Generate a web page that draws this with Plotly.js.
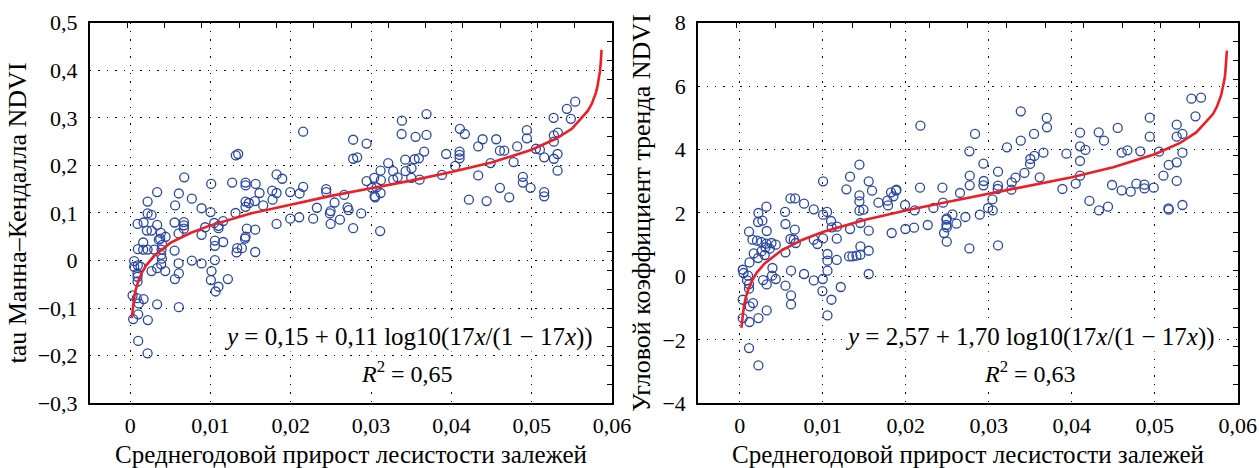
<!DOCTYPE html>
<html>
<head>
<meta charset="utf-8">
<script src="https://cdn.plot.ly/plotly-3.0.1.min.js"></script>
<style>html,body{margin:0;padding:0;background:#fff;}#chart{width:1259px;height:468px;}</style>
</head>
<body>
<div id="chart"></div>
<script>
// ---- Left panel: tau Mann-Kendall NDVI vs forest gain ----
const tauX = [0.01316,0.01345,0.00673,0.01009,0.0127,0.01437,0.01437,0.01562,0.00336,0.00606,0.00217,0.00768,0.0056,0.00889,0.01001,0.01437,0.01478,0.01553,0.01437,0.01312,0.00217,0.00266,0.00167,0.00092,0.00336,0.00553,0.00669,0.00669,0.00669,0.00208,0.00266,0.00382,0.00441,0.00374,0.00357,0.00162,0.00603,0.00889,0.00934,0.01046,0.0110,0.0110,0.01158,0.01453,0.01557,0.01055,0.01055,0.01158,0.01437,0.0143,0.01333,0.01325,0.01391,0.01557,0.00096,0.00162,0.00217,0.00299,0.00399,0.00391,0.00553,0.0005,0.00096,0.0005,0.0013,0.00092,0.00092,0.00092,0.00266,0.00336,0.00386,0.00395,0.00386,0.00436,0.00603,0.00606,0.00557,0.00768,0.00889,0.01013,0.01005,0.01055,0.01217,0.0110,0.01064,0.0003,0.00083,0.00167,0.00108,0.00336,0.00606,0.00037,0.001,0.0022,0.001,0.00217,
0.02154,0.03384,0.0338,0.0369,0.03554,0.0369,0.02777,0.02944,0.03661,0.03595,0.03542,0.03425,0.03213,0.02777,0.02827,0.01823,0.01893,0.01611,0.01656,0.01768,0.01823,0.01773,0.01993,0.0211,0.02154,0.02441,0.02441,0.02665,0.02545,0.02325,0.02496,0.02487,0.02707,0.0272,0.02877,0.02496,0.02279,0.02105,0.01993,0.01823,0.02612,0.02777,0.03113,0.02944,0.0301,0.03039,0.03122,0.03118,0.03043,0.03051,0.03068,0.03118,0.03275,0.0333,0.0343,0.03504,0.035,0.03604,0.03275,
0.03935,0.03882,0.04047,0.04106,0.04168,0.04102,0.04102,0.04102,0.04218,0.04334,0.04389,0.04334,0.04438,0.04488,0.04558,0.04604,0.04658,0.04604,0.0472,0.04775,0.0482,0.0489,0.0489,0.04986,0.0494,0.0494,0.05052,0.05102,0.05156,0.05156,0.05156,0.05273,0.05276,0.05326,0.05276,0.05276,0.05322,0.05322,0.05438,0.05488,0.05542];
const tauY = [0.221,0.224,0.175,0.161,0.164,0.158,0.164,0.161,0.144,0.141,0.124,0.130,0.116,0.110,0.102,0.124,0.121,0.125,0.113,0.100,0.099,0.096,0.080,0.077,0.075,0.080,0.081,0.074,0.067,0.063,0.063,0.058,0.050,0.046,0.044,0.038,0.057,0.054,0.070,0.079,0.068,0.073,0.083,0.067,0.065,0.042,0.031,0.039,0.050,0.046,0.026,0.017,0.026,0.018,0.024,0.023,0.023,0.023,0.033,0.023,0.021,-0.001,-0.010,-0.013,-0.013,-0.027,-0.034,-0.044,-0.022,-0.016,-0.008,0.004,0.012,-0.022,-0.006,-0.027,-0.039,0.000,-0.006,-0.022,-0.041,0.001,-0.039,-0.055,-0.065,-0.073,-0.079,-0.081,-0.090,-0.092,-0.098,-0.123,-0.113,-0.125,-0.169,-0.195,
0.271,0.294,0.266,0.308,0.260,0.264,0.254,0.246,0.229,0.215,0.213,0.212,0.205,0.214,0.217,0.181,0.172,0.142,0.116,0.147,0.142,0.128,0.144,0.141,0.155,0.150,0.144,0.138,0.122,0.111,0.104,0.099,0.112,0.106,0.099,0.077,0.088,0.091,0.088,0.077,0.086,0.068,0.062,0.167,0.153,0.174,0.169,0.142,0.135,0.133,0.154,0.189,0.188,0.175,0.188,0.194,0.174,0.170,0.170,
0.224,0.180,0.199,0.277,0.266,0.229,0.222,0.215,0.128,0.240,0.255,0.179,0.125,0.205,0.255,0.231,0.231,0.153,0.133,0.207,0.240,0.176,0.164,0.153,0.274,0.257,0.235,0.233,0.217,0.144,0.135,0.300,0.263,0.269,0.250,0.214,0.224,0.189,0.319,0.298,0.334];

const fitX = [0.0002,0.0003,0.0005,0.0007,0.001,0.0015,0.002,0.003,0.005,0.0075,0.01,0.015,0.02,0.025,0.03,0.035,0.04,0.045,0.05,0.053,0.055,0.057,0.0575,0.058,0.0582,0.0584,0.0585,0.0586,0.0587];
const tauFitY = [-0.121,-0.102,-0.077,-0.061,-0.044,-0.024,-0.010,0.010,0.037,0.058,0.074,0.099,0.118,0.136,0.152,0.168,0.186,0.206,0.233,0.256,0.277,0.315,0.330,0.353,0.367,0.385,0.398,0.416,0.443];

// ---- Right panel: slope of NDVI trend vs forest gain ----
const slopeX = [0.01442,0.01329,0.01004,0.01285,0.01442,0.01442,0.01554,0.01594,0.0149,0.01442,0.01454,0.00611,0.00667,0.00775,0.00892,0.00321,0.00225,0.00221,0.00273,0.00546,0.00551,0.00663,0.01004,0.01052,0.011,0.01108,0.01172,0.01329,0.01554,0.00112,0.00325,0.00153,0.00208,0.00261,0.00321,0.00382,0.00434,0.00611,0.00651,0.00675,0.00892,0.00936,0.01004,0.01169,0.0031,0.00361,0.00261,0.00301,0.00221,0.00169,0.00551,0.00117,0.00036,0.00045,0.001,0.00088,0.00112,0.00112,0.00394,0.00389,0.00434,0.00281,0.00325,0.00618,0.00775,0.00892,0.01,0.01057,0.00996,0.01105,0.01217,0.01554,0.00551,0.00618,0.00618,0.00036,0.0016,0.0012,0.00325,0.00225,0.00117,0.00036,0.01057,0.00112,0.00225,0.01554,0.01317,0.01358,0.01406,0.01454,0.01454,0.01057,0.01057,0.01169,
0.01787,0.01888,0.01671,0.01779,0.01823,0.01883,0.01852,0.01992,0.02108,0.02172,0.02177,0.02265,0.02442,0.02449,0.02494,0.02494,0.02462,0.01831,0.01996,0.021,0.02334,0.02563,0.0249,0.0249,0.02494,0.02611,0.02654,0.02719,0.02767,0.02771,0.02771,0.02767,0.02835,0.02892,0.02936,0.0294,0.02936,0.02992,0.03044,0.03048,0.03112,0.03112,0.03112,0.03108,0.03277,0.03273,0.03322,0.03386,0.03386,0.0343,0.03498,0.03502,0.0355,0.03546,0.03659,0.03614,0.03699,0.03702,0.0322,
0.03888,0.03936,0.04048,0.041,0.041,0.041,0.041,0.04165,0.04213,0.04329,0.04437,0.04325,0.04389,0.04486,0.04602,0.04711,0.04554,0.04602,0.04671,0.04779,0.04876,0.04876,0.04988,0.04827,0.0494,0.0494,0.05052,0.05105,0.05169,0.05265,0.05265,0.05165,0.05169,0.05334,0.05265,0.05265,0.05334,0.05334,0.05442,0.05558,0.05491];
const slopeY = [3.524,3.145,2.997,2.745,2.555,2.366,2.997,2.703,2.104,2.073,1.684,2.46,2.46,2.293,2.114,2.199,2.0,1.716,1.757,2.032,1.653,1.473,1.946,2.032,1.748,1.546,1.568,1.495,1.442,1.41,1.432,1.158,1.126,1.085,1.032,1.054,1.0,1.18,1.158,1.054,1.158,1.022,1.199,1.189,0.915,0.874,0.789,0.675,0.58,0.726,0.757,0.442,0.211,0.107,0.022,-0.126,-0.24,-0.388,0.265,0.022,-0.082,-0.114,-0.252,0.18,0.076,-0.126,-0.082,0.18,-0.461,-0.735,-0.334,0.076,-0.293,-0.599,-0.883,-0.735,-0.839,-0.946,-1.073,-1.312,-1.438,-1.312,-1.23,-2.259,-2.808,0.81,0.631,0.631,0.653,0.684,0.946,0.707,0.495,0.52,
2.24,2.735,2.325,2.388,2.65,2.703,2.524,2.252,2.082,2.798,4.754,1.621,2.798,2.325,1.83,1.546,1.369,1.369,1.495,1.536,2.158,1.956,1.789,1.621,1.095,1.662,2.631,1.874,0.883,2.871,3.177,3.943,4.492,1.946,3.555,3.009,2.871,2.158,2.429,2.082,3.303,2.861,0.978,2.757,2.965,2.735,3.114,5.205,4.281,3.262,3.546,3.703,3.798,4.492,3.902,3.123,4.997,4.7,4.069,
2.757,3.871,2.924,4.533,4.101,3.64,3.177,3.987,2.379,2.082,2.199,4.543,4.281,2.883,2.713,2.672,4.681,3.902,3.975,2.924,2.893,2.776,2.798,3.943,5.006,4.407,3.934,3.177,3.514,3.596,3.01,2.145,2.104,2.252,4.785,4.407,4.492,3.902,5.606,5.637,5.047];
const slopeFitY = [-1.624,-1.323,-0.944,-0.693,-0.425,-0.120,0.099,0.411,0.816,1.150,1.399,1.778,2.080,2.347,2.600,2.854,3.127,3.441,3.851,4.200,4.539,5.112,5.355,5.712,5.919,6.207,6.407,6.681,7.121];

const xTitle = 'Среднегодовой прирост лесистости залежей';
const yTitleL = 'tau Манна–Кендалла NDVI';
const yTitleR = 'Угловой коэффициент тренда NDVI';
const eqL = '<i>y</i> = 0,15 + 0,11 log10(17<i>x</i>/(1 − 17<i>x</i>))';
const r2L = '<i>R</i><sup>2</sup> = 0,65';
const eqR = '<i>y</i> = 2,57 + 1,70 log10(17<i>x</i>/(1 − 17<i>x</i>))';
const r2R = '<i>R</i><sup>2</sup> = 0,63';

const FONT = 'Liberation Serif';
const markerStyle = {symbol:'circle-open', size:9, color:'rgb(40,70,165)', line:{width:1.3, color:'rgb(40,70,165)'}};
const lineStyle = {color:'rgb(238,30,36)', width:2.6};

const traces = [
  {x:tauX, y:tauY, type:'scatter', mode:'markers', marker:markerStyle, xaxis:'x', yaxis:'y'},
  {x:fitX, y:tauFitY, type:'scatter', mode:'lines', line:lineStyle, xaxis:'x', yaxis:'y'},
  {x:slopeX, y:slopeY, type:'scatter', mode:'markers', marker:markerStyle, xaxis:'x2', yaxis:'y2'},
  {x:fitX, y:slopeFitY, type:'scatter', mode:'lines', line:lineStyle, xaxis:'x2', yaxis:'y2'},
  {x:[null], y:[null], type:'scatter', mode:'markers', xaxis:'x3', yaxis:'y3', showlegend:false, hoverinfo:'skip'},
  {x:[null], y:[null], type:'scatter', mode:'markers', xaxis:'x4', yaxis:'y4', showlegend:false, hoverinfo:'skip'}
];

const domL = [0.0715, 0.4861], domR = [0.5546, 0.9831], domY = [0.1383, 0.9515];

function tickFont(){ return {family:FONT, size:22, color:'#000'}; }

function xMain(dom, anchor){
  return {domain:dom, anchor:anchor, range:[-0.005,0.06], tick0:0, dtick:0.01, tickmode:'linear',
    showgrid:true, gridcolor:'#000', gridwidth:1, griddash:'1.4px,7px', zeroline:false,
    showline:true, linecolor:'#000', linewidth:2, ticks:'', tickfont:tickFont(), ticklabelstandoff:1,
    title:{text:xTitle, font:{family:FONT, size:25, color:'#000'}, standoff:18}, automargin:false};
}
function yMain(dom, anchor, range, dtick, title){
  return {domain:dom, anchor:anchor, range:range, tick0:0, dtick:dtick, tickmode:'linear',
    showgrid:true, gridcolor:'#000', gridwidth:1, griddash:'1.4px,7px', zeroline:false,
    showline:true, linecolor:'#000', linewidth:2, ticks:'', tickfont:tickFont(), ticklabelstandoff:6,
    title:{text:title, font:{family:FONT, size:26, color:'#000'}, standoff:4}, automargin:false};
}
function xTop(over, anchor){
  return {overlaying:over, anchor:anchor, side:'top', range:[-0.005,0.06], tickmode:'linear', tick0:-0.005, dtick:0.065/14,
    ticks:'inside', ticklen:5, tickwidth:1.3, tickcolor:'#000', showticklabels:false, showgrid:false, zeroline:false,
    showline:true, linecolor:'#000', linewidth:2};
}
function yRight(over, anchor, range, n){
  return {overlaying:over, anchor:anchor, side:'right', range:range, tickmode:'linear', tick0:range[0], dtick:(range[1]-range[0])/n,
    ticks:'inside', ticklen:5, tickwidth:1.3, tickcolor:'#000', showticklabels:false, showgrid:false, zeroline:false,
    showline:true, linecolor:'#000', linewidth:2};
}

function ann(text, xref, yref, x, y, size){
  return {text:text, xref:xref, yref:yref, x:x, y:y, xanchor:'center', yanchor:'middle', showarrow:false,
    font:{family:FONT, size:size, color:'#000'}, bgcolor:'#fff', borderpad:0};
}
const layout = {
  width:1259, height:468, margin:{l:0, r:0, t:0, b:0},
  paper_bgcolor:'#fff', plot_bgcolor:'#fff', showlegend:false, separators:', ',
  font:{family:FONT, color:'#000'},
  xaxis: xMain(domL, 'y'),
  yaxis: yMain(domY, 'x', [-0.3,0.5], 0.1, yTitleL),
  xaxis2: xMain(domR, 'y2'),
  yaxis2: yMain(domY, 'x2', [-4,8], 2, yTitleR),
  xaxis3: xTop('x', 'y3'),
  yaxis3: yRight('y', 'x3', [-0.3,0.5], 20),
  xaxis4: xTop('x2', 'y4'),
  yaxis4: yRight('y2', 'x4', [-4,8], 20),
  annotations:[
    ann(eqL, 'x', 'y', 0.0346, -0.1605, 25),
    ann(r2L, 'x', 'y', 0.0345, -0.2335, 24),
    ann(eqR, 'x2', 'y2', 0.0350, -1.9, 25),
    ann(r2R, 'x2', 'y2', 0.0350, -3.0, 24)
  ]
};

Plotly.newPlot('chart', traces, layout, {displayModeBar:false});
</script>
</body>
</html>
